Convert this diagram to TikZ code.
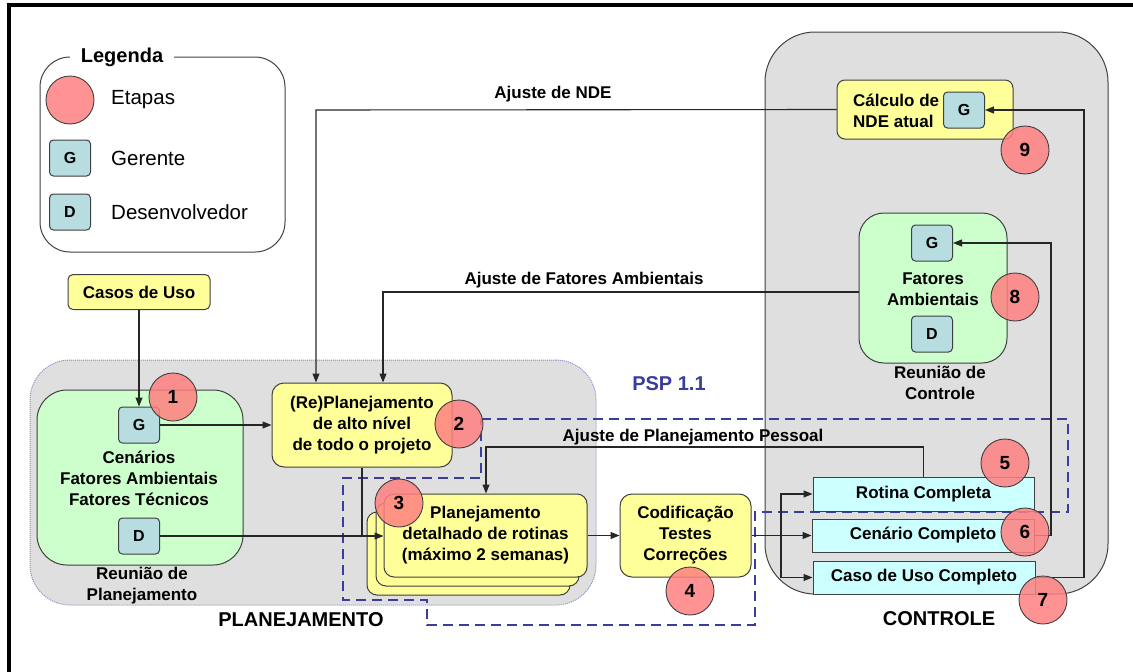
\documentclass[tikz,border=0pt]{standalone}
\usepackage{fontspec}
\setmainfont{Liberation Sans}
\usetikzlibrary{arrows.meta}

\definecolor{yel}{HTML}{FFFF99}
\definecolor{grn}{HTML}{CCFFCC}
\definecolor{regiongray}{HTML}{DFDFDF}
\definecolor{gdblue}{HTML}{B7DDE0}
\definecolor{cyanbox}{HTML}{CCFFFF}
\definecolor{etred}{HTML}{FF7F7F}
\definecolor{linec}{HTML}{404040}
\definecolor{pspblue}{HTML}{3C3C9C}
\definecolor{dotblue}{HTML}{8C8CCC}

\tikzset{
  boxfont/.style={font=\bfseries\fontsize{17}{21}\selectfont},
  box/.style={draw=linec, line width=1pt, boxfont, align=center, inner sep=0pt},
  ybox/.style={box, fill=yel, rounded corners=10pt},
  cbox/.style={box, fill=cyanbox},
  gd/.style={draw=linec, line width=1pt, fill=gdblue, rounded corners=4pt,
    minimum width=41pt, minimum height=36pt, inner sep=0pt,
    font=\bfseries\fontsize{16}{19}\selectfont},
  etapa/.style={circle, draw=linec, line width=0.9pt, fill=etred, fill opacity=0.85,
    text opacity=1, minimum size=48pt, inner sep=0pt,
    font=\bfseries\fontsize{19}{22}\selectfont},
  region/.style={fill=regiongray, inner sep=0pt},
  conn/.style={draw=black!85, line width=1.1pt, -{Triangle[length=9pt,width=7pt]}},
  plain/.style={draw=black!85, line width=1.1pt},
  lbl/.style={boxfont, inner sep=0pt},
  title/.style={font=\bfseries\fontsize{20}{24}\selectfont, inner sep=0pt},
  legtext/.style={font=\fontsize{20.5}{24}\selectfont, anchor=west, inner sep=0pt},
  psp/.style={draw=pspblue, line width=2pt, dash pattern=on 10pt off 6pt},
}

\begin{document}
\begin{tikzpicture}[x=1pt, y=-1pt]
\useasboundingbox (0,0) rectangle (1133,672);

% page frame (open at the right and bottom)
\draw[line width=3.5pt] (9,690) -- (9,5) -- (1140,5);

% legend
\draw[linec, line width=1pt, rounded corners=30pt] (40,57) rectangle (285,252);
\node[fill=white, inner xsep=11pt, inner ysep=2pt, font=\bfseries\fontsize{20}{24}\selectfont] (legtitle) at (122,57) {Legenda};
\node[etapa] (legc) at (70,100) {};
\node[legtext] (legct) at (111,100) {Etapas};
\node[gd] (legg) at (70,158) {G};
\node[legtext] (leggt) at (111,158) {Gerente};
\node[gd] (legd) at (70,212) {D};
\node[legtext] (legdt) at (111,212) {Desenvolvedor};

% background regions
\node[region, draw=dotblue, densely dotted, line width=1pt, rounded corners=40pt,
  minimum width=566pt, minimum height=245pt] (planreg) at (313,482.5) {};
\node[region, draw=linec, line width=1pt, rounded corners=50pt,
  minimum width=343pt, minimum height=562pt] (ctrlreg) at (936.5,313) {};

% PSP 1.1 boundary
\draw[psp] (481,419) -- (1068,419) -- (1068,512) -- (755,512) -- (755,625)
  -- (427,625) -- (427,600) -- (343,600) -- (343,478) -- (481,478) -- cycle;
\node[title, text=pspblue] (psplbl) at (669,384) {PSP 1.1};

% planning side
\node[ybox, rounded corners=5pt, minimum width=142pt, minimum height=35pt] (casos) at (139,292) {Casos de Uso};
\node[box, fill=grn, rounded corners=30pt, minimum width=206pt, minimum height=175pt] (rp) at (140,477.5) {};
\node[gd] (g1) at (139,425) {G};
\node[gd] (d1) at (139,536) {D};
\node[lbl, align=center] (rptext) at (139,478) {Cenários\\Fatores Ambientais\\Fatores Técnicos};
\node[lbl, align=center] (rplbl) at (142,586) {Reunião de\\Planejamento};

\node[ybox, rounded corners=12pt, minimum width=180pt, minimum height=84pt] (rep) at (362,425)
  {(Re)Planejamento\\de alto nível\\de todo o projeto};

\node[ybox, minimum width=203pt, minimum height=83pt] (back) at (468.5,553.5) {};
\node[ybox, minimum width=203pt, minimum height=83pt] (mid) at (477.5,544.5) {};
\node[ybox, minimum width=203pt, minimum height=83pt] (front) at (485.5,535.5)
  {Planejamento\\detalhado de rotinas\\(máximo 2 semanas)};

\node[ybox, rounded corners=12pt, minimum width=131pt, minimum height=83pt] (cod) at (685.5,535.5)
  {Codificação\\Testes\\Correções};

\node[title] (planlbl) at (301,620) {PLANEJAMENTO};

% control side
\node[ybox, rounded corners=8pt, minimum width=176pt, minimum height=59pt] (calc) at (925,109.5) {};
\node[lbl, align=left, anchor=west] (calctext) at (853,110.5) {Cálculo de\\NDE atual};
\node[gd] (g9) at (964,110) {G};

\node[box, fill=grn, rounded corners=25pt, minimum width=148pt, minimum height=150pt] (rc) at (933,288) {};
\node[gd] (g8) at (932,243) {G};
\node[gd] (d8) at (932,334) {D};
\node[lbl, align=center] (rctext) at (933,289) {Fatores\\Ambientais};
\node[lbl, align=center] (rclbl) at (940,383) {Reunião de\\Controle};

\node[cbox, minimum width=221pt, minimum height=34pt] (rot) at (923.5,494) {Rotina Completa};
\node[cbox, minimum width=222pt, minimum height=33pt] (cen) at (923,535.5) {Cenário Completo};
\node[cbox, minimum width=222pt, minimum height=33pt] (caso) at (924,577.5) {Caso de Uso Completo};

\node[title] (ctrllbl) at (939,619) {CONTROLE};

% routing points
\coordinate (nde) at (316,110);
\coordinate (fa) at (383,292);
\coordinate (pp) at (486,447);
\coordinate (split) at (781,535.5);
\coordinate (r9) at (1084,110);
\coordinate (r8) at (1051,243);

% connectors
\draw[conn] (casos) -- (g1);
\draw[conn] (g1) -- (rep.west |- g1);
\draw[conn] (d1.east) -- (d1.east -| front.west);
\draw[plain] (rep.south) -- (rep.south |- d1.east);
\draw[conn] (front.east) -- (cod.west);
\draw[conn] (cod.east) -- (cen.west);
\draw[conn] (split) |- (rot.west);
\draw[conn] (split) |- (caso.west);
\draw[conn] (calc.west) -- (nde) -- (nde |- rep.north);
\node[lbl] (ndelbl) at (553,94) {Ajuste de NDE};
\draw[conn] (rc.west |- fa) -- (fa) -- (fa |- rep.north);
\node[lbl] (falbl) at (584,280) {Ajuste de Fatores Ambientais};
\draw[conn] (rot.north) |- (pp) -- (pp |- front.north);
\node[lbl] (pplbl) at (693,437) {Ajuste de Planejamento Pessoal};
\draw[conn] (caso.east) -| (r9) -- (g9.east);
\draw[conn] (cen.east) -| (r8) -- (g8.east);

% stage markers
\node[etapa] (e1) at (173,397) {1};
\node[etapa] (e2) at (459,424) {2};
\node[etapa] (e3) at (399,503) {3};
\node[etapa] (e4) at (690,591) {4};
\node[etapa] (e5) at (1005,463) {5};
\node[etapa] (e6) at (1025,532) {6};
\node[etapa] (e7) at (1043,600) {7};
\node[etapa] (e8) at (1015,297) {8};
\node[etapa] (e9) at (1025,150) {9};
\end{tikzpicture}
\end{document}
